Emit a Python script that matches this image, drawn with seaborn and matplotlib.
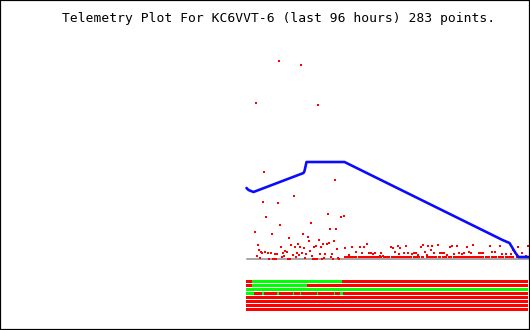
import matplotlib
matplotlib.use("Agg")
import matplotlib.pyplot as plt
from matplotlib.path import Path
from matplotlib.patches import Rectangle
import pandas as pd
import seaborn as sns

# ---------------- data ----------------
title = "Telemetry Plot For KC6VVT-6 (last 96 hours) 283 points."
n_points = 283

# blue channel (sample index, value)
blue_idx = [0, 2, 7, 57, 58, 60, 98, 256, 263, 266, 269, 272, 282]
blue_val = [72, 70, 68, 87, 89, 98, 98, 20, 17, 12, 7, 3, 3]

# red channel scattered samples (sample index, value)
red_idx = [32, 54, 9, 71, 17, 88, 47, 16, 31, 19, 8, 33, 25, 81, 64, 83, 89, 42, 56, 61,
           62, 11, 87, 72, 12, 34, 44, 51, 48, 53, 57, 67, 69, 74, 76, 80, 82, 90, 14, 15,
           18, 21, 24, 28, 30, 36, 38, 40, 46, 50, 55, 59, 63, 73, 78, 85, 10, 35, 37, 49,
           52, 58, 65, 77, 84, 13, 22, 26, 27, 29, 41, 43, 66, 68, 70, 75, 86, 91, 92,
           94, 97, 98, 105, 113, 117, 120, 144, 146, 151, 153, 159, 174, 176, 181, 185, 102,
           109, 115, 122, 124, 126, 128, 134, 136, 148, 152, 157, 161, 165, 167, 169, 171,
           178, 180, 184, 187, 131, 133,
           191, 203, 205, 210, 220, 226, 243, 253, 271, 281, 193, 195, 197, 200, 207, 212,
           215, 217, 222, 224, 232, 234, 236, 245, 248, 255, 259, 264, 266, 268, 275, 279]
red_val = [199, 195, 157, 155, 88, 80, 64, 58, 57, 43, 28, 35, 26, 46, 37, 31, 31, 22, 26, 23,
           19, 15, 19, 20, 10, 13, 15, 16, 13, 13, 12, 13, 14, 13, 16, 16, 17, 11, 8, 7,
           8, 7, 7, 6, 6, 7, 9, 8, 5, 7, 7, 6, 9, 6, 6, 6, 4, 3, 4, 3,
           5, 2, 4, 2, 3, 2, 1, 1, 1, 1, 1, 1, 1, 1, 1, 1, 1, 2, 1,
           43, 44, 12, 13, 13, 13, 16, 13, 12, 14, 12, 14, 13, 15, 14, 14, 5,
           8, 7, 7, 7, 6, 7, 7, 4, 8, 6, 7, 7, 6, 7, 7, 5,
           8, 5, 10, 7, 3, 4,
           15, 13, 14, 14, 13, 15, 14, 14, 13, 14, 7, 7, 7, 5, 6, 7,
           6, 7, 8, 7, 7, 7, 7, 8, 8, 6, 6, 6, 10, 8, 7, 4]

# runs of the red channel sitting just above zero (start index, end index)
base_start = [98, 106, 112, 124, 127, 131, 137, 145, 148, 158, 167, 175, 180, 192, 196,
              202, 207, 212, 223, 228, 239, 245, 252, 259, 270, 279]
base_end = [105, 110, 123, 126, 130, 135, 143, 147, 157, 165, 173, 177, 190, 194, 200,
            205, 211, 222, 227, 237, 243, 250, 257, 267, 277, 282]
base_val = 3.5

# grey channel (constant zero-level)
grey_idx = [0, 282]
grey_val = [1, 1]

# status bits: change points and state (1 = on/green, 0 = off/red)
status_starts = [
    [0, 6, 96],
    [0, 6, 61],
    [0],
    [0, 8, 16, 18, 31, 33, 47, 48, 54, 55, 71, 72, 88, 89, 94, 97],
    [0],
    [0],
    [0],
    [0],
]
status_states = [
    [0, 1, 0],
    [0, 1, 0],
    [1],
    [1, 0, 1, 0, 1, 0, 1, 0, 1, 0, 1, 0, 1, 0, 1, 0],
    [0],
    [0],
    [0],
    [0],
]

# ---------------- style ----------------
RED = "#ff0000"
GREEN = "#00ff00"
BLUE = "#0a0aff"
GREY = "#a8a8a8"

sns.set_style("white")
plt.rcParams["font.family"] = ["DejaVu Sans Mono", "DejaVu Sans"]

W, H = 530, 330
fig = plt.figure(figsize=(W / 100, H / 100), dpi=100)
fig.patch.set_facecolor("white")

# main telemetry panel (1 data unit ~ 1 pixel)
ax = fig.add_axes([0, 0, 1, 1])
ax.set_xlim(-246.5, 283.5)
ax.set_ylim(-70, 260)
ax.axis("off")

px = 72 / 100  # one pixel in points

grey_df = pd.DataFrame({"idx": grey_idx, "val": grey_val})
sns.lineplot(data=grey_df, x="idx", y="val", ax=ax, color=GREY, linewidth=2 * px)

ax.hlines([base_val] * len(base_start),
          [s - 0.5 for s in base_start], [e + 0.5 for e in base_end],
          colors=RED, linewidth=2 * px)

tick = Path([(-0.5, -1), (0.5, -1), (0.5, 1), (-0.5, 1), (-0.5, -1)],
            [Path.MOVETO, Path.LINETO, Path.LINETO, Path.LINETO, Path.CLOSEPOLY])
red_df = pd.DataFrame({"idx": red_idx, "val": red_val})
sns.scatterplot(data=red_df, x="idx", y="val", ax=ax, color=RED, marker=tick,
                s=(2.4 * px) ** 2, linewidth=0, zorder=3, antialiased=False)

blue_df = pd.DataFrame({"idx": blue_idx, "val": blue_val})
sns.lineplot(data=blue_df, x="idx", y="val", ax=ax, color=BLUE, linewidth=2.6 * px,
             zorder=4)

# status bit panel
ax2 = fig.add_axes([0, (H - 311.5) / H, 1, 32 / H])
ax2.set_xlim(-246.5, 283.5)
ax2.set_ylim(7.5, -0.5)
ax2.axis("off")
for row, (starts, states) in enumerate(zip(status_starts, status_states)):
    ends = starts[1:] + [n_points - 1]
    for s, e, st in zip(starts, ends, states):
        ax2.barh(row, e - s, left=s - 0.5, height=0.75,
                 color=GREEN if st else RED, linewidth=0)

# title
fig.text(278.5 / W, 1 - 22 / H, title, ha="center", va="baseline",
         fontsize=9.4, family=["DejaVu Sans Mono", "DejaVu Sans"], color="black")

# frame (drawn on the figure edge; half of the 2px line is visible)
fig.patches.append(Rectangle((0, 0), 1, 1, transform=fig.transFigure, fill=False,
                             edgecolor="black", linewidth=2.2 * px, zorder=10))

fig.savefig("out.png", dpi=100)
